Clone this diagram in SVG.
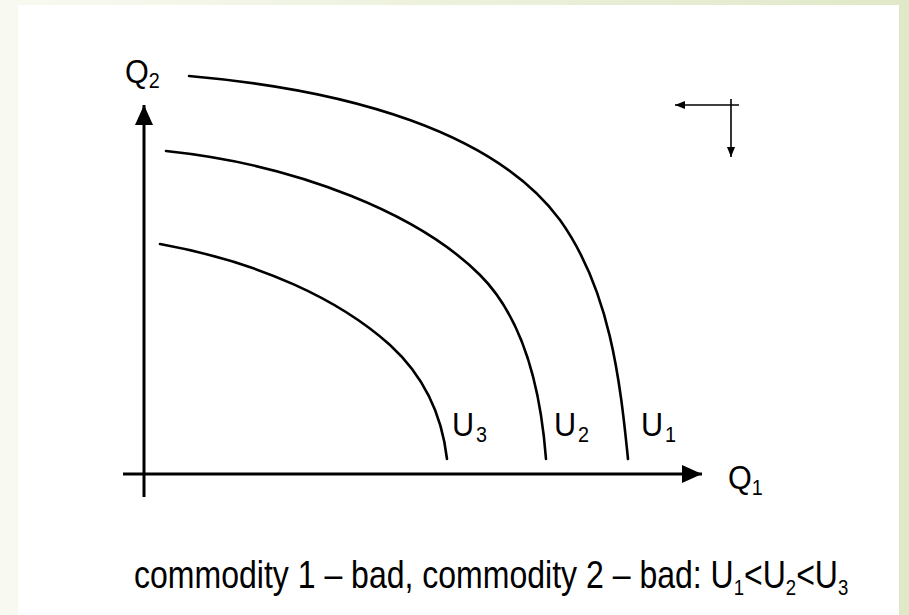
<svg xmlns="http://www.w3.org/2000/svg" width="909" height="615" viewBox="0 0 909 615">
<defs>
<linearGradient id="bg" x1="0" y1="0" x2="1" y2="0">
<stop offset="0" stop-color="#f8faf1"/>
<stop offset="1" stop-color="#e0e8c8"/>
</linearGradient>
<marker id="big" viewBox="0 0 20 18" refX="20" refY="9" markerWidth="20" markerHeight="18" markerUnits="userSpaceOnUse" orient="auto">
<path d="M0,0 L20,9 L0,18 Z" fill="#000"/>
</marker>
<marker id="small" viewBox="0 0 10 8" refX="10" refY="4" markerWidth="10" markerHeight="8" markerUnits="userSpaceOnUse" orient="auto">
<path d="M0,0 L10,4 L0,8 Z" fill="#000"/>
</marker>
<style>
.lbl{font-family:"Liberation Sans",Arial,sans-serif;font-size:34px;fill:#000}
.cap{font-family:"Liberation Sans",Arial,sans-serif;font-size:38px;fill:#000}
.sub{font-size:22px}
.curve{fill:none;stroke:#000;stroke-width:2.6;stroke-linecap:round}
.axis{fill:none;stroke:#000;stroke-width:3}
.thin{fill:none;stroke:#000;stroke-width:1.6}
</style>
</defs>
<rect x="0" y="0" width="909" height="615" fill="url(#bg)"/>
<rect x="18" y="5" width="881" height="610" fill="#fff"/>
<g id="connectors">
<line id="axis-q2" class="axis" x1="144" y1="497" x2="144" y2="105" marker-end="url(#big)"/>
<line id="axis-q1" class="axis" x1="123" y1="474" x2="702" y2="474" marker-end="url(#big)"/>
<line class="thin" x1="739" y1="105" x2="675" y2="105" marker-end="url(#small)"/>
<line class="thin" x1="731" y1="99" x2="731" y2="157" marker-end="url(#small)"/>
</g>
<g id="U1">
<path class="curve" d="M189,76 C350,90 495,132 560,220 C610,290 620,380 628,459"/>
<text class="lbl" transform="translate(641,436) scale(0.9,1)">U<tspan class="sub" dx="2" dy="6">1</tspan></text>
</g>
<g id="U2">
<path class="curve" d="M166,151 C300,165 420,215 480,275 C520,315 540,380 546,459"/>
<text class="lbl" transform="translate(554,436) scale(0.9,1)">U<tspan class="sub" dx="2" dy="6">2</tspan></text>
</g>
<g id="U3">
<path class="curve" d="M160,244 C260,262 340,300 390,345 C425,377 442,415 447,459"/>
<text class="lbl" transform="translate(452,436) scale(0.9,1)">U<tspan class="sub" dx="2" dy="6">3</tspan></text>
</g>
<g id="Q2">
<text class="lbl" transform="translate(125,83) scale(0.9,1)">Q<tspan class="sub" dy="5">2</tspan></text>
</g>
<g id="Q1">
<text class="lbl" transform="translate(728,489) scale(0.9,1)">Q<tspan class="sub" dy="6">1</tspan></text>
</g>
<g id="caption">
<text class="cap" transform="translate(134,588) scale(0.843,1)">commodity 1 – bad, commodity 2 – bad: U<tspan class="sub" dy="7">1</tspan><tspan dy="-7">&lt;U</tspan><tspan class="sub" dy="7">2</tspan><tspan dy="-7">&lt;U</tspan><tspan class="sub" dy="7">3</tspan></text>
</g>
</svg>
